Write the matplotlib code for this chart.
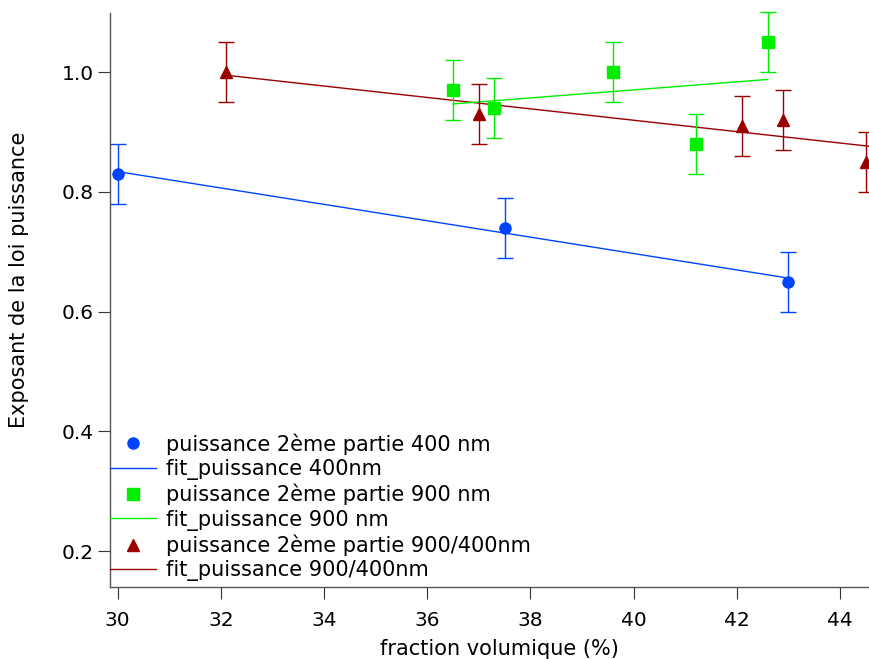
import numpy as np
import matplotlib
matplotlib.use("Agg")
import matplotlib.pyplot as plt
from matplotlib.lines import Line2D

plt.rcParams['font.family'] = ['DejaVu Sans']

# 400 nm
x_400 = [30.0, 37.5, 43.0]
y_400 = [0.83, 0.74, 0.65]
err_400 = [0.05, 0.05, 0.05]
fit_x_400 = [30.0, 43.0]
fit_y_400 = [0.834, 0.656]

# 900 nm
x_900 = [36.5, 37.3, 39.6, 41.2, 42.6]
y_900 = [0.97, 0.94, 1.00, 0.88, 1.05]
err_900 = [0.05, 0.05, 0.05, 0.05, 0.05]
fit_x_900 = [36.5, 42.6]
fit_y_900 = [0.947, 0.988]

# 900/400 nm
x_mix = [32.1, 37.0, 42.1, 42.9, 44.5]
y_mix = [1.00, 0.93, 0.91, 0.92, 0.85]
err_mix = [0.05, 0.05, 0.05, 0.05, 0.05]
fit_x_mix = [32.1, 44.6]
fit_y_mix = [0.995, 0.876]

blue = '#0044ff'
green = '#00ee00'
red = '#990000'

fig = plt.figure(figsize=(8.7, 6.59), dpi=100)
ax = fig.add_axes([0.1264, 0.1093, 0.8736, 0.871])

ax.plot(fit_x_400, fit_y_400, color=blue, lw=1)
ax.plot(fit_x_mix, fit_y_mix, color=red, lw=1)
ax.plot(fit_x_900, fit_y_900, color=green, lw=1)

for xs, ys, es, m, c, ms in [(x_400, y_400, err_400, 'o', blue, 8),
                             (x_900, y_900, err_900, 's', green, 8.5),
                             (x_mix, y_mix, err_mix, '^', red, 8.5)]:
    eb = ax.errorbar(xs, ys, yerr=es, fmt=m, color=c, ms=ms,
                     capsize=5.5, elinewidth=1, capthick=1)
    for art in eb.lines[1]:
        art.set_clip_on(False)
    for art in eb.lines[2]:
        art.set_clip_on(False)

ax.set_xlim(29.85, 44.58)
ax.set_ylim(0.14, 1.099)
ax.set_xticks([30, 32, 34, 36, 38, 40, 42, 44])
ax.set_yticks([0.2, 0.4, 0.6, 0.8, 1.0])
ax.set_yticklabels(['0.2', '0.4', '0.6', '0.8', '1.0'])

for s in ['top', 'right']:
    ax.spines[s].set_visible(False)
for s in ['left', 'bottom']:
    ax.spines[s].set_color('#555555')
    ax.spines[s].set_linewidth(1)
ax.tick_params(direction='out', length=8.5, width=0.8, color='#333333',
               labelsize=14.5)
ax.tick_params(axis='x', pad=9)
ax.tick_params(axis='y', pad=3)

ax.set_xlabel('fraction volumique (%)', fontsize=15)
ax.set_ylabel('Exposant de la loi puissance', fontsize=15)
ax.xaxis.set_label_coords(0.512, -0.09)
ax.yaxis.set_label_coords(-0.107, 0.535)

handles = [
    Line2D([], [], ls='none', marker='o', color=blue, ms=8),
    Line2D([], [], color=blue, lw=1),
    Line2D([], [], ls='none', marker='s', color=green, ms=8.5),
    Line2D([], [], color=green, lw=1),
    Line2D([], [], ls='none', marker='^', color=red, ms=8.5),
    Line2D([], [], color=red, lw=1),
]
labels = [
    'puissance 2ème partie 400 nm',
    'fit_puissance 400nm',
    'puissance 2ème partie 900 nm',
    'fit_puissance 900 nm',
    'puissance 2ème partie 900/400nm',
    'fit_puissance 900/400nm',
]
ax.legend(handles, labels, loc='upper left', bbox_to_anchor=(0.0, 0.268),
          frameon=False, fontsize=15, handlelength=2.2, handletextpad=0.5,
          labelspacing=0.2, borderpad=0, borderaxespad=0)

fig.savefig('out.png', dpi=100)
